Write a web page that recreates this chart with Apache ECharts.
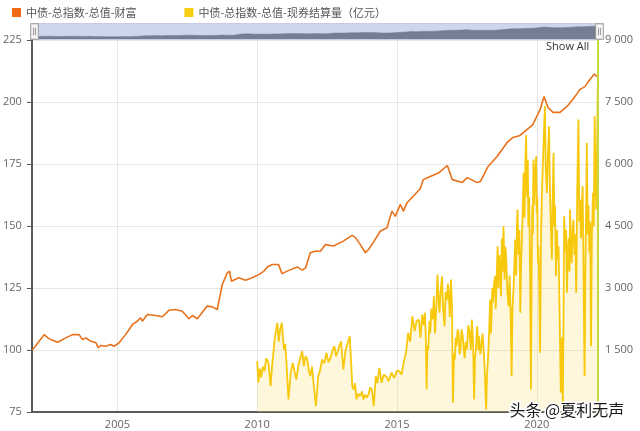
<!DOCTYPE html>
<html>
<head>
<meta charset="utf-8">
<script src="https://cdn.jsdelivr.net/npm/echarts@6/dist/echarts.min.js"></script>
<style>
html,body{margin:0;padding:0;background:#fff;}
#chart{width:640px;height:431px;}
</style>
</head>
<body>
<div id="chart"></div>
<script>
// ---- data (decimal years) ----
const wealthName = '中债-总指数-总值-财富';
const volumeName = '中债-总指数-总值-现券结算量（亿元）';

const wealthYears = [2001.96,2002.20,2002.38,2002.50,2002.62,2002.86,2003.15,2003.39,2003.63,2003.75,2003.87,2004.05,2004.23,2004.32,2004.40,2004.58,2004.76,2004.88,2005.06,2005.30,2005.54,2005.71,2005.83,2005.89,2006.07,2006.37,2006.61,2006.84,2007.08,2007.32,2007.56,2007.68,2007.86,2008.04,2008.21,2008.39,2008.57,2008.75,2008.93,2009.01,2009.08,2009.34,2009.58,2009.82,2010.06,2010.24,2010.36,2010.54,2010.76,2010.89,2011.07,2011.43,2011.61,2011.73,2011.90,2012.08,2012.26,2012.44,2012.73,2013.08,2013.39,2013.51,2013.69,2013.87,2013.98,2014.15,2014.40,2014.64,2014.82,2014.94,2015.12,2015.23,2015.36,2015.58,2015.83,2015.94,2016.19,2016.50,2016.80,2016.98,2017.33,2017.51,2017.87,2017.98,2018.26,2018.58,2018.94,2019.15,2019.40,2019.65,2019.86,2020.12,2020.26,2020.40,2020.58,2020.83,2021.08,2021.29,2021.54,2021.72,2021.90,2022.06,2022.15];
const wealthValues = [100.0,103.5,106.2,105.0,104.2,103.1,104.9,106.2,106.2,104.2,104.9,103.5,102.9,100.9,101.8,101.5,102.2,101.5,102.9,106.3,110.3,111.6,113.0,111.6,114.3,113.9,113.4,116.0,116.3,115.6,112.6,113.9,112.6,115.2,117.7,117.4,116.3,126.4,131.1,131.8,127.7,129.1,128.1,129.1,130.4,131.8,133.5,134.5,134.5,130.8,131.8,133.5,132.2,133.1,139.2,139.8,139.8,142.5,141.9,143.9,146.2,145.4,142.5,139.2,140.5,143.3,147.9,149.3,156.0,153.9,158.7,156.0,159.4,162.0,165.0,168.7,170.0,171.5,174.4,168.7,167.5,169.5,167.5,167.9,174.0,178.0,183.7,185.7,186.5,188.9,190.9,197.0,202.2,197.8,195.8,195.8,198.2,201.0,205.0,206.2,209.1,211.3,210.2];

// [decimal year, 亿元]
const volume2010 = [[2010.00,1230],[2010.04,714],[2010.09,1050],[2010.14,835],[2010.20,1100],[2010.26,987],[2010.32,1300],[2010.40,1197],[2010.48,624],[2010.53,1100],[2010.59,1512],[2010.63,1800],[2010.67,1955],[2010.72,2158],[2010.77,1700],[2010.82,1996],[2010.88,2158],[2010.92,1800],[2010.96,1512],[2011.00,1650],[2011.04,1270]];
const volume2011 = [[2011.12,302],[2011.20,948],[2011.27,1190],[2011.33,1000],[2011.40,786],[2011.47,1108],[2011.54,1300],[2011.61,1471],[2011.67,1108],[2011.73,1350],[2011.79,1270],[2011.85,980],[2011.90,866],[2011.96,1100],[2012.02,665]];
const volume2012 = [[2012.10,140],[2012.18,866],[2012.25,1000],[2012.32,1270],[2012.40,1180],[2012.48,1432],[2012.55,1200],[2012.62,1311],[2012.70,1500],[2012.76,1592],[2012.82,1350],[2012.88,1471],[2012.94,1600],[2013.00,1713]];
const volume2013 = [[2013.08,1028],[2013.16,1500],[2013.24,1674],[2013.31,1834],[2013.36,1200],[2013.40,624],[2013.45,544],[2013.50,700],[2013.55,302],[2013.62,450],[2013.68,382],[2013.75,500],[2013.80,302],[2013.86,420],[2013.92,350],[2013.98,423],[2014.04,600]];
const volume2014 = [[2014.10,544],[2014.17,140],[2014.24,866],[2014.30,700],[2014.37,1069],[2014.45,706],[2014.53,900],[2014.61,866],[2014.70,745],[2014.80,950],[2014.90,827],[2015.00,1000]];
const volume2015 = [[2015.08,987],[2015.16,907],[2015.24,1200],[2015.32,1432],[2015.40,1916],[2015.47,1700],[2015.55,2317],[2015.63,1955],[2015.70,2200],[2015.78,2238],[2015.84,1800],[2015.90,2358],[2015.95,2100],[2016.00,2400]];
const volume2016 = [[2016.03,1800],[2016.06,544],[2016.09,1600],[2016.12,1500],[2016.16,2200],[2016.19,1916],[2016.23,2500],[2016.28,2238],[2016.32,2800],[2016.36,1900],[2016.41,2600],[2016.45,3326],[2016.49,2700],[2016.52,2400],[2016.56,2900],[2016.61,3285],[2016.65,2500],[2016.70,2076],[2016.74,2900],[2016.78,2700],[2016.82,3100],[2016.85,2884],[2016.89,2300],[2016.93,3205],[2016.97,2500]];
const volume2017 = [[2017.00,222],[2017.04,1400],[2017.07,1270],[2017.10,1800],[2017.13,1600],[2017.17,2000],[2017.20,1916],[2017.24,1400],[2017.27,1500],[2017.31,2000],[2017.35,1834],[2017.39,1500],[2017.42,1300],[2017.46,1700],[2017.50,1512],[2017.55,2100],[2017.60,1900],[2017.64,1500],[2017.68,2238],[2017.72,1700],[2017.76,302],[2017.79,1300],[2017.82,1500],[2017.85,1900],[2017.87,2076],[2017.91,1500],[2017.94,1834],[2017.98,1400],[2018.02,1600],[2018.06,1900]];
const volume2018 = [[2018.10,1512],[2018.14,1000],[2018.19,60],[2018.22,900],[2018.26,1350],[2018.30,2000],[2018.33,2721],[2018.36,1900],[2018.38,2300],[2018.41,3000],[2018.43,2642],[2018.47,3100],[2018.51,3285],[2018.53,2500],[2018.55,2900],[2018.58,3600],[2018.60,4011],[2018.63,3000],[2018.66,3800],[2018.69,3527],[2018.72,2800],[2018.75,4200],[2018.78,3400],[2018.81,4495],[2018.85,3200],[2018.88,4000],[2018.91,3689],[2018.95,2900],[2018.99,2559],[2019.03,3300],[2019.07,2200]];
const volume2019 = [[2019.10,866],[2019.13,2500],[2019.17,3000],[2019.20,3600],[2019.23,4173],[2019.26,3300],[2019.29,4500],[2019.31,4898],[2019.35,3800],[2019.38,4400],[2019.41,2400],[2019.44,3600],[2019.47,4200],[2019.50,5000],[2019.53,5786],[2019.56,4700],[2019.59,6000],[2019.62,6700],[2019.64,5400],[2019.66,5200],[2019.68,6100],[2019.70,4495],[2019.73,5200],[2019.76,3500],[2019.79,544],[2019.82,3800],[2019.84,5000],[2019.86,4300],[2019.88,6108],[2019.91,5000],[2019.94,5800],[2019.98,6188],[2020.00,4800],[2020.02,5200]];
const volume2020 = [[2020.04,3600],[2020.06,4011],[2020.09,3000],[2020.12,1432],[2020.15,4200],[2020.18,5200],[2020.21,5866],[2020.25,6600],[2020.29,7400],[2020.32,6000],[2020.36,5302],[2020.40,6200],[2020.44,6913],[2020.47,5400],[2020.50,4600],[2020.54,3689],[2020.57,5200],[2020.60,6269],[2020.63,4500],[2020.65,5000],[2020.69,3285],[2020.72,4400],[2020.75,3700],[2020.78,4011],[2020.82,2200],[2020.86,464],[2020.90,1800],[2020.93,60],[2020.96,2600],[2020.98,4736],[2021.02,3900]];
const volume2021 = [[2021.05,4400],[2021.08,2884],[2021.11,3800],[2021.14,4200],[2021.17,3400],[2021.19,4898],[2021.22,4100],[2021.25,3600],[2021.28,4400],[2021.31,4657],[2021.35,3800],[2021.38,4300],[2021.41,2884],[2021.45,5500],[2021.49,7076],[2021.52,4600],[2021.55,5141],[2021.58,4200],[2021.61,5000],[2021.64,5463],[2021.67,3600],[2021.71,866],[2021.74,3500],[2021.77,5200],[2021.79,6512],[2021.82,4300],[2021.85,5000],[2021.88,3851],[2021.91,4600],[2021.94,1592],[2021.97,4200]];
const volume2022 = [[2022.01,5302],[2022.04,4500],[2022.07,7156],[2022.10,5600],[2022.13,4898],[2022.16,6600],[2022.18,7881]];

const leftTicks = [75,100,125,150,175,200,225];
const rightTicks = [0,1500,3000,4500,6000,7500,9000];
const yearTicks = [2005,2010,2015,2020];

const xMin = 2001.94, xMax = 2022.19;

const volumeData = [].concat(volume2010,volume2011,volume2012,volume2013,volume2014,volume2015,volume2016,volume2017,volume2018,volume2019,volume2020,volume2021,volume2022);

const chart = echarts.init(document.getElementById('chart'), null, {renderer:'canvas'});
const font = '"Open Sans","Noto Sans CJK SC",sans-serif';
function fmtSpace(v){
  if (v < 1000) return String(v);
  return Math.floor(v/1000) + ' ' + String(v % 1000).padStart(3,'0');
}

chart.setOption({
  animation:false,
  backgroundColor:'#fff',
  textStyle:{fontFamily:font},
  legend:{
    left:7, top:2, icon:'rect', itemWidth:9, itemHeight:9, itemGap:48,
    textStyle:{fontSize:11, color:'#555', fontFamily:'"Noto Sans CJK SC",sans-serif'},
    data:[wealthName, volumeName]
  },
  grid:{left:31, right:42, top:40, bottom:19, containLabel:false},
  dataZoom:[{
    type:'slider', xAxisIndex:0, left:31, right:42, top:23, height:17,
    start:0, end:100, showDetail:false, brushSelect:false, moveHandleSize:0,
    backgroundColor:'#cfd7ea', fillerColor:'rgba(200,212,236,0.12)', borderColor:'#c5cde0',
    dataBackground:{lineStyle:{color:'#687289', width:0.5}, areaStyle:{color:'#687289', opacity:1}},
    selectedDataBackground:{lineStyle:{color:'#687289', width:0.5}, areaStyle:{color:'#687289', opacity:1}},
    handleIcon:'path://M0,0 L8,0 L8,16 L0,16 Z M3,4 L3,12 M5,4 L5,12',
    handleSize:'90%',
    handleStyle:{color:'#f4f4f4', borderColor:'#999', borderWidth:1}
  }],
  xAxis:{
    type:'value', min:xMin, max:xMax,
    axisLine:{show:true, lineStyle:{color:'#5a5a5a', width:2}},
    axisTick:{show:true, length:0, customValues:yearTicks},
    axisLabel:{customValues:yearTicks, color:'#666', fontSize:11, margin:7, formatter:v=>String(Math.round(v))},
    splitLine:{show:true, lineStyle:{color:'#e6e6e6', width:1}}
  },
  yAxis:[{
    type:'value', min:75, max:225, interval:25, position:'left',
    axisLine:{show:true, lineStyle:{color:'#5a5a5a', width:2}},
    axisTick:{show:true, length:5, lineStyle:{color:'#5a5a5a'}},
    axisLabel:{color:'#666', fontSize:11, margin:10},
    splitLine:{show:true, lineStyle:{color:'#e6e6e6', width:1}}
  },{
    type:'value', min:0, max:9000, interval:1500, position:'right',
    axisLine:{show:false}, axisTick:{show:false},
    axisLabel:{color:'#666', fontSize:11, margin:7, formatter:fmtSpace},
    splitLine:{show:false}
  }],
  series:[{
    name:wealthName, type:'line', yAxisIndex:0, showSymbol:false, symbol:'none',
    lineStyle:{color:'#e8721c', width:1.6}, itemStyle:{color:'#f06a14'},
    data:wealthYears.map((y,i)=>[y, wealthValues[i]]), z:3
  },{
    name:volumeName, type:'line', yAxisIndex:1, showSymbol:false, symbol:'none',
    lineStyle:{color:'#f8c80c', width:1.8}, itemStyle:{color:'#f8cf10'},
    areaStyle:{color:'rgba(250,226,120,0.38)'},
    data:volumeData, z:2,
    markLine:{silent:true, symbol:'none', label:{show:false},
      lineStyle:{color:'#c6d83a', width:2, type:'solid'},
      data:[{xAxis:2022.17}]}
  }],
  graphic:[{
    type:'text', left:546, top:41,
    style:{text:'Show All', fill:'#333', font:'11px "Open Sans",sans-serif'}
  },{
    type:'text', left:508, top:400, z:100,
    style:{text:'头条 @夏利无声', fill:'#1a1a1a', stroke:'#fff', lineWidth:3,
      font:'16px "Noto Sans CJK SC",sans-serif'}
  }]
});
</script>
</body>
</html>
